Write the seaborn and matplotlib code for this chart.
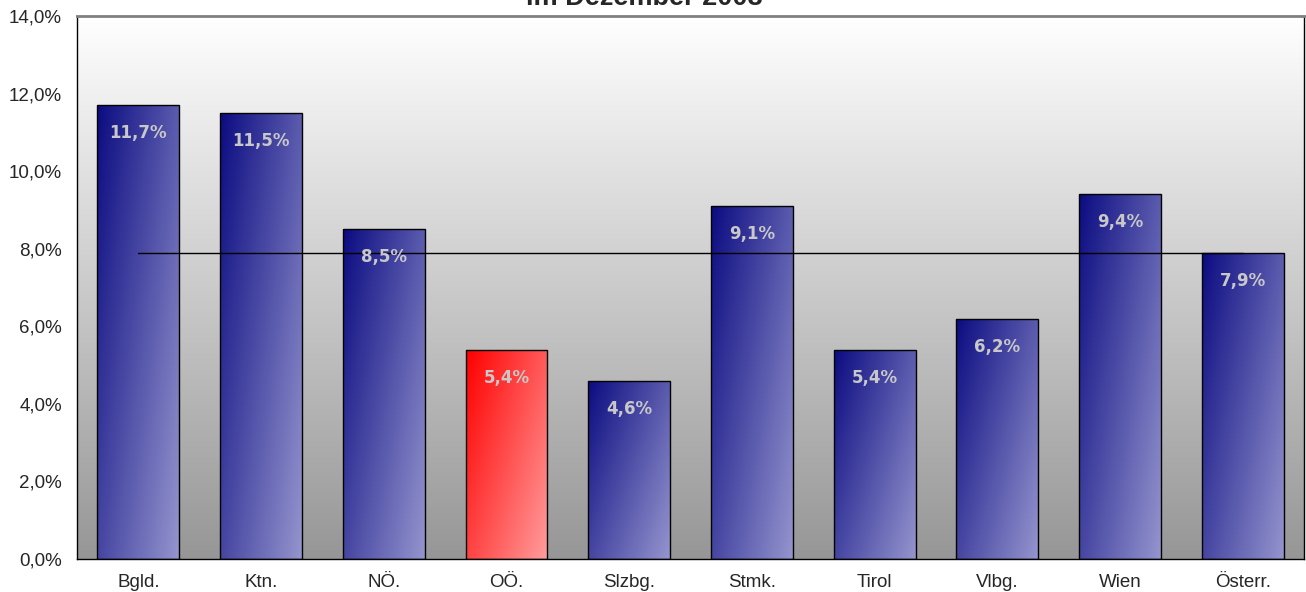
import numpy as np
import pandas as pd
import seaborn as sns
import matplotlib.pyplot as plt
from matplotlib.colors import to_rgb
from matplotlib.ticker import FuncFormatter

# Arbeitslosenquote nach Bundesland, Dezember 2008
regions = ['Bgld.', 'Ktn.', 'NÖ.', 'OÖ.', 'Slzbg.', 'Stmk.', 'Tirol', 'Vlbg.', 'Wien', 'Österr.']
rates = [11.7, 11.5, 8.5, 5.4, 4.6, 9.1, 5.4, 6.2, 9.4, 7.9]
highlight = 'OÖ.'
average = 7.9
title = 'im Dezember 2008'

df = pd.DataFrame({'region': regions, 'rate': rates})

sns.set_style('white')
plt.rcParams['font.family'] = ['Liberation Sans', 'DejaVu Sans']

fig = plt.figure(figsize=(13.06, 5.92), dpi=100)
ax = fig.add_axes([0.059, 0.0557, 0.9396, 0.9172])

pal = {r: ('red' if r == highlight else 'navy') for r in regions}
sns.barplot(data=df, x='region', y='rate', hue='region', palette=pal,
            legend=False, width=0.667, edgecolor='black', linewidth=1,
            saturation=1, ax=ax, zorder=2)

ax.set_xlim(-0.5, 9.5)
ax.set_ylim(0, 14)
ax.set_yticks(np.arange(0, 15, 2))
ax.yaxis.set_major_formatter(FuncFormatter(lambda v, p: f'{v:.1f}%'.replace('.', ',')))
ax.set_xlabel('')
ax.set_ylabel('')
ax.tick_params(axis='x', length=0, pad=11, labelsize=13.5)
ax.tick_params(axis='y', length=0, pad=11, labelsize=13.5)

# background gradient white -> grey
bg = np.linspace(1.0, 0.59, 256)[:, None] * np.ones((1, 2))
ax.imshow(np.dstack([bg, bg, bg]), extent=[0, 1, 0, 1], transform=ax.transAxes,
          aspect='auto', zorder=0)


def grad_img(c0, c1, n=64):
    u = np.linspace(0, 1, n)[None, :]
    v = np.linspace(0, 1, n)[:, None]
    t = 0.62 * u + 0.45 * v  # v=0 top row
    t = t / t.max()
    c0, c1 = np.array(to_rgb(c0)), np.array(to_rgb(c1))
    return c0 + (c1 - c0) * t[..., None]


for patch, r in zip(ax.patches, regions):
    x, w, h = patch.get_x(), patch.get_width(), patch.get_height()
    if r == highlight:
        img = grad_img('#ff0000', '#ff9c9c')
    else:
        img = grad_img('#0c0c82', '#9494ce')
    im = ax.imshow(img, extent=[x, x + w, 0, h], aspect='auto', zorder=2.5)
    im.set_clip_path(patch)
    patch.set_facecolor('none')
    patch.set_zorder(3)
    ax.annotate(f'{h:.1f}%'.replace('.', ','), (x + w / 2, h), xytext=(0, -28),
                textcoords='offset pixels', ha='center', va='center',
                fontsize=12, fontweight='bold', color='#c8c8c8',
                family='DejaVu Sans', zorder=4)

ax.plot([0, len(regions) - 1], [average, average], color='black', lw=1, zorder=3.5)

ax.set_xlim(-0.5, 9.5)
ax.set_ylim(0, 14)

for s in ['left', 'right', 'bottom']:
    ax.spines[s].set_color('black')
    ax.spines[s].set_linewidth(1)
ax.spines['top'].set_color('#808080')
ax.spines['top'].set_linewidth(2)

fig.text(644 / 1306, 1 - 5 / 592, title, ha='center', va='baseline',
         fontsize=19.5, fontweight='bold')

fig.savefig('out.png', dpi=100)
